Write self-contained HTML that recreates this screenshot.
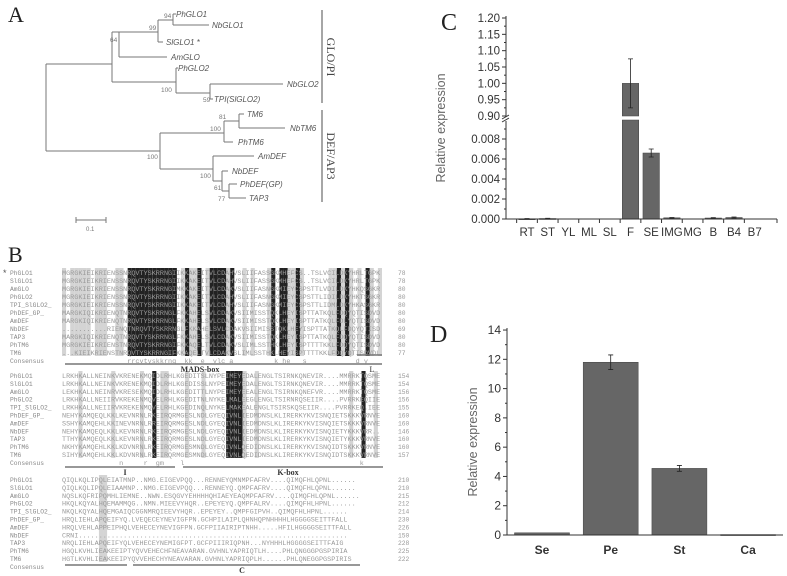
<!DOCTYPE html>
<html><head><meta charset="utf-8"><style>
html,body{margin:0;padding:0;background:#fff;}
svg{display:block;font-family:"Liberation Sans",sans-serif;}
.serif{font-family:"Liberation Serif",serif;}
.mono{font-family:"Liberation Mono",monospace;white-space:pre;}
</style></head><body>
<svg id="fig" width="787" height="576" viewBox="0 0 787 576" xmlns="http://www.w3.org/2000/svg">
<g id="panelA" stroke="#777" stroke-width="1" fill="none">
<text x="8" y="22" class="serif" font-size="22" fill="#222" stroke="none">A</text>
<path d="M46,64V151 M46,64H112 M112,32V82 M112,32H119 M119,32V57 M119,57H167 M119,32H158 M158,20V42 M158,42H163 M158,20H173 M173,14V25 M173,14H176 M173,25H209 M112,82H176 M176,68V93 M176,68H178 M176,93H210 M210,84V99 M210,84H283 M210,99H213
M46,151H160 M160,133V169 M160,133H224 M224,121V142 M224,121H239 M239,114V128 M239,114H244 M239,128H285 M224,142H233 M160,169H213 M213,156V181 M213,156H254 M213,181H222 M222,171V191 M222,171H228 M222,191H229 M229,184V198 M229,184H237 M229,198H246"/>
<g stroke="none" fill="#555" font-size="8" font-style="italic">
<text x="176" y="17">PhGLO1</text><text x="212" y="28">NbGLO1</text><text x="166" y="45">SlGLO1 *</text><text x="171" y="60">AmGLO</text><text x="178" y="71">PhGLO2</text><text x="287" y="87">NbGLO2</text><text x="214" y="102">TPI(SlGLO2)</text>
<text x="247" y="117">TM6</text><text x="290" y="131">NbTM6</text><text x="238" y="145">PhTM6</text><text x="258" y="159">AmDEF</text><text x="232" y="174">NbDEF</text><text x="240" y="187">PhDEF(GP)</text><text x="249" y="201">TAP3</text>
</g>
<g stroke="none" fill="#777" font-size="6.5">
<text x="164" y="18">94</text><text x="149" y="30">99</text><text x="110" y="42">64</text><text x="161" y="92">100</text><text x="203" y="102">59</text><text x="219" y="119">81</text><text x="210" y="131">100</text><text x="147" y="159">100</text><text x="200" y="178">100</text><text x="214" y="190">61</text><text x="218" y="201">77</text>
</g>
<path d="M322,10V103 M322,110V202" stroke="#888" stroke-width="1.5"/>
<text transform="translate(327,57) rotate(90)" text-anchor="middle" class="serif" font-size="12" fill="#444" stroke="none">GLO/PI</text>
<text transform="translate(327,156) rotate(90)" text-anchor="middle" class="serif" font-size="12" fill="#444" stroke="none">DEF/AP3</text>
<path d="M76,220H106 M76,217V223 M106,217V223"/>
<text x="86" y="231" font-size="6" fill="#777" stroke="none">0.1</text>
</g>

<g id="panelB">
<text x="8" y="262" class="serif" font-size="22" fill="#222">B</text>
<text x="3" y="276" font-size="9" fill="#555">*</text>
</g>

<g id="panelC"></g>
<g id="panelD"></g>
</svg>
<script>
const NS="http://www.w3.org/2000/svg";
function mk(parent,tag,attrs,text){const e=document.createElementNS(NS,tag);for(const k in attrs)e.setAttribute(k,attrs[k]);if(text!==undefined)e.textContent=text;parent.appendChild(e);return e;}

// ---------- Panel B alignment ----------
const seqNames=["PhGLO1","SlGLO1","AmGLO","PhGLO2","TPI_SlGLO2_","PhDEF_GP_","AmDEF","NbDEF","TAP3","PhTM6","TM6","Consensus"];
const blockEnds=[[78,78,80,80,80,80,80,69,80,80,77,""],[154,154,156,156,155,160,160,146,160,160,157,""],[210,210,215,212,214,230,226,150,228,225,222,""]];
const blockSeqs=[
["MGRGKIEIKRIENSSNRQVTYSKRRNGIIKKAKEITVLCDAHVSLIIFASSGKMHEFCS..TSLVCILDKYHRLTGPKLW","MGRGKIEIKRIENSSNRQVTYSKRRNGIIKKAKEITVLCDAHVSLIIFASSGKMHEFCS..TSLVCILDKYHRLTGPKLW","MGRGKIEIKRIENSSNRQVTYSKRRNGIMKKAKEITVLCDAKVSLIIFASNGKMIEYCSPSTTLVDILDKYHKQSGKRLW","MGRGKIEIKRIENSSNRQVTYSKRRNGIIKKAKEITVLCDAHVSLIIFASNGKMIEYCSPSTTLIDILDKYHKTSGKRLW","MGRGKIEIKRIENSSNRQVTYSKRRNGIIKKAKEITVLCDAHVSLIIFASNGKMIEYCSPSTTLIDMLDKYHKASGKRLW","MARGKIQIKRIENQTNRQVTYSKRRNGLFKKAHELSVLCDAKVSIIMISSTQKLHEYISPTTATKQLFDQYQTISDVDVW","MARGKIQIKRIENQTNRQVTYSKRRNGLFKKAHELSVLCDAKVSIIMISSTQKLHEYISPTTATKQLFDLYQTISDVDVW","...........RIENQTNRQVTYSKRRNGLFKKAHELSVLCDAKVSIIMISSTQKLHEYISPTTATKQLFDQYQTISDVDVW","MARGKIQIKRIENQTNRQVTYSKRRNGLFKKAHELSVLCDAKVSIIMISSTQKLHEYISPTTATKQLFDQYQTISDVDVW","MGRGKIEIKRIENSTNRQVTYSKRRNGIFKKAQELTVLCDAKVSLIMLSSTHKLHEYISPTTTTKKLFDQYQTISDVDVW","...KIEIKRIENSTNRQVTYSKRRNGIFKKAQELTVLCDAKVSLIMLSSTHKLHEYISPTTTTKKLFDQYQTISDVDLW","                rrcvtyskkrng  kk  e  vlc a          k he   s            d y    g"],
["LRKHKALLNEINKVKRENEKMQIDLRHLKGEDITSLNYPEIMEYEDALENGLTSIRNKQNEVIR....MMRRKTQSMEEE","LRKHKALLNEINKVKRENEKMQIDLRHLKGEDISSLNYPEIMEYEDALENGLTSIRNKQNEVIR....MMRRKTQSMEEE","LEKHKALLNEINRVKRESEKMQIDLRHLKGEDITTLNYPEIMEYEEALENGLTSIRNKQNEFVR....MMRRKTQSMEEE","LRKHKALLNEIIRVKREKENMQVELRHLKGEDITNLNYKELMALEEGLENGLTSIRNRQSEIIR....PVRRKEQIIEEE","LRKHKALLNEIIRVKREKENMQVELRHLKGEDINQLNYKELMAKEALENGLTSIRSKQSEIIR....PVRRKEQ.IEEE","NEHYKAMQEQLKKLKEVNRNLRKEIRQRMGESLNDLGYEQIVNLIEDMDNSLKLIRERKYKVISNQIETSKKKVRNVEEI","SSHYKAMQEHLKKINEVNRNLRREIRQRMGESLNDLGYEQIVNLIEDMDNSLKLIRERKYKVISNQIETSKKKVRNVEEI","NEHYKAMQEQLKKLKEVNRNLRKEIRQRMGESLNDLGYEQIVNLIEDMDNSLKLIRERKYKVISNQIETYKKKVRR...PQ","TTHYKAMQEQLKKLKEVNRNLRKEIRQRMGESLNDLGYEQIVNLIEDMDNSLKLIRERKYKVISNQIETYKKKVRNVEEI","NKHYKAMQEHLKKLKDVNRNLRKEIRQRMGESMNDLGYEQIVNLQEDIDNSLKLIRERKYKVISNQIDTSKKKVRNVEEI","SIHYKAMQEHLKKLKDVNRNLRKEIRQRMGESMNDLGYEQIVNLQEDIDNSLKLIRERKYKVISNQIDTSKKKVRNVEEI","              n     r  gm    l                                           k"],
["QIQLKQLIPQLEIATMNP..NMG.EIGEVPQQ...RENNEYQMNMPFAFRV....QIMQFHLQPNL......","QIQLKQLIPQLEIAAMNP..NMG.EIGEVPQQ...RENNEYQ.QMPFAFRV....QIMQFHLQPNL......","NQSLKQFRIPQMHLIEMNE..NWN.ESQGVYEHHHHQHIAEYEAQMPFAFRV....QIMQFHLQPNL......","HKQLKQYALHQEMAMMQG..NMN.MIEEVYHQR..EPEYEYQ.QMPFALRV....QIMQFHLHPNL......","NKQLKQYALHQEMGAIQCGGNMRQIEEVYHQR..EPEYEY..QMPFGIPVH..QIMQFHLHPNL......","HRQLIEHLAPQEIFYQ.LVEQECEYNEVIGFPN.GCHPILAIPLQHNHQPNHHHHLHGGGGSEITTFALL","HRQLVEHLAPPEIPHQLVEHECEYNEVIGFPN.GCFPIIAIRIPTNHH.....HFILHGGGGSEITTFALL","CRNI..................................................................","NRQLIEHLAPQEIFYQLVEHECEYNEMIGFPT.GCFPIIIRIQPNH...NYHHHLHGGGGSEITTFAIG","HGQLKVHLIEAKEEIPTYQVVEHECHFNEAVARAN.GVHNLYAPRIQTLH....PHLQNGGGPGSPIRIA","HGTLKVHLIEAKEEIPYQVVEHECHYNEAVARAN.GVHNLYAPRIQPLH......PHLQNEGGPGSPIRIS",""]
];
const blackCols=[[16,17,18,19,20,21,22,23,24,25,26,27,30,33,36,37,38,39,41,51,53,54,57,67,69,74],[22,40,41,42,43,73],[]];
const grayCols=[[0,2,3,4,5,6,8,9,10,13,14,29,31,32,35,40,44,46,50,55,56,58,65,66,68,70,72,75,77],[4,12,19,24,25,30,34,44,47,70,76],[9,10]];
const blockTop=[273,376,480];
const blockStep=[8,7.9,7.9];
const seqX=62, seqW=320, nCols=78;
const gB=document.getElementById('panelB');
for(let b=0;b<3;b++){
  const colW=seqW/nCols;
  const top=blockTop[b]-5, h=blockStep[b]*11;
  grayCols[b].forEach(c=>{mk(gB,'rect',{x:seqX+c*colW,y:top,width:colW,height:h,fill:'#d4d4d4'});});
  blackCols[b].forEach(c=>{mk(gB,'rect',{x:seqX+c*colW,y:top,width:colW,height:h,fill:'#222'});});
  for(let i=0;i<seqNames.length;i++){
    const y=blockTop[b]+i*blockStep[b]+2;
    const n=mk(gB,'text',{x:10,y:y,'font-size':6.3,fill:'#888','class':'mono'},seqNames[i]);
    
    
    const s=blockSeqs[b][i];
    if(s.length){
      mk(gB,'text',{x:seqX,y:y,'font-size':6.8,fill:'#9a9a9a','class':'mono'},s.slice(0,nCols));
    }
    if(blockEnds[b][i]!==""){mk(gB,'text',{x:398,y:y,'font-size':6.3,fill:'#999','class':'mono'},String(blockEnds[b][i]));}
  }
}
mk(gB,'path',{d:'M65,364H382 M357,355H382 M65,467H175 M183,467H383 M65,565H127 M133,565H360',stroke:'#777','stroke-width':1.5,fill:'none'});
mk(gB,'text',{x:200,y:372,'font-size':8,'class':'serif',fill:'#333','font-weight':'bold','text-anchor':'middle'},'MADS-box');
mk(gB,'text',{x:372,y:372,'font-size':8,'class':'serif',fill:'#333','text-anchor':'middle'},'L');
mk(gB,'text',{x:125,y:475,'font-size':8,'class':'serif',fill:'#333','font-weight':'bold','text-anchor':'middle'},'I');
mk(gB,'text',{x:288,y:475,'font-size':8,'class':'serif',fill:'#333','font-weight':'bold','text-anchor':'middle'},'K-box');
mk(gB,'text',{x:242,y:573,'font-size':8,'class':'serif',fill:'#333','font-weight':'bold','text-anchor':'middle'},'C');

// ---------- Panel C ----------
const catsC=["RT","ST","YL","ML","SL","F","SE","IMG","MG","B","B4","B7"];
const valsC=[0.00003,0.00005,0,0,0,1.0,0.0066,0.00012,0,0.0001,0.00015,0];
const errC=[0.00002,0.00002,0,0,0,0.075,0.0004,0.00003,0,0.00003,0.00005,0];
const ticksCLow=[0,0.002,0.004,0.006,0.008];
const ticksCHigh=[0.90,0.95,1.00,1.05,1.10,1.15,1.20];
const gC=document.getElementById('panelC');
const cAx=506, cX0=527, cStep=20.7, cBarW=16.5;
const yLow=v=>219-v*10000;
const yHigh=v=>18+(1.2-v)*326.7;
const xC=i=>cX0+i*cStep;
const yC=v=>v<=0.0098?yLow(v):yHigh(Math.max(v,0.9));
mk(gC,'text',{x:441,y:30,'class':'serif','font-size':24,fill:'#222'},'C');
catsC.forEach((c,i)=>{
  const v=valsC[i]; if(v<=0) return;
  const x=xC(i)-cBarW/2;
  if(v>0.0098){
    const b1=mk(gC,'rect',{x:x,y:yHigh(v),width:cBarW,height:yHigh(0.9)-yHigh(v),fill:'#666',stroke:'#444','stroke-width':0.5});
    
    
    const b2=mk(gC,'rect',{x:x,y:120,width:cBarW,height:219-120,fill:'#666',stroke:'#444','stroke-width':0.5});
    
    
  } else {
    const b=mk(gC,'rect',{x:x,y:yLow(v),width:cBarW,height:Math.max(219-yLow(v),1),fill:'#666',stroke:'#444','stroke-width':0.5});
    
    
  }
  const e=errC[i]; if(e>0){
    const y1=yC(v+e), y2=yC(v-e), xc=xC(i);
    const eb=mk(gC,'path',{d:`M${xc},${y1}V${y2} M${xc-2.5},${y1}H${xc+2.5} M${xc-2.5},${y2}H${xc+2.5}`,stroke:'#222','stroke-width':0.8,fill:'none'});
    
    
  }
});
mk(gC,'path',{d:`M${cAx},16V116 M${cAx},121V219 M${cAx},219H777`,stroke:'#333','stroke-width':1,fill:'none'});
mk(gC,'path',{d:`M${cAx-4},119L${cAx+3},115 M${cAx-4},122L${cAx+3},118`,stroke:'#333','stroke-width':1,fill:'none'});
ticksCHigh.forEach(t=>{const y=yHigh(t);mk(gC,'path',{d:`M${cAx-4},${y}H${cAx}`,stroke:'#333'});
  const m=yHigh(t+0.025); if(t<1.2) mk(gC,'path',{d:`M${cAx-2},${m}H${cAx}`,stroke:'#333'});
  mk(gC,'text',{x:cAx-6,y:y+4,'font-size':11.5,fill:'#333','text-anchor':'end'},t.toFixed(2));});
ticksCLow.forEach(t=>{const y=yLow(t);mk(gC,'path',{d:`M${cAx-4},${y}H${cAx}`,stroke:'#333'});
  mk(gC,'path',{d:`M${cAx-2},${yLow(t+0.001)}H${cAx}`,stroke:'#333'});
  mk(gC,'text',{x:cAx-6,y:y+4,'font-size':11.5,fill:'#333','text-anchor':'end'},t.toFixed(3));});
catsC.forEach((c,i)=>{const x=xC(i);mk(gC,'path',{d:`M${x-cStep/2},219V223`,stroke:'#333'});
  const t=mk(gC,'text',{x:x,y:236,'font-size':11.5,fill:'#333','text-anchor':'middle'},c);
  
  });
mk(gC,'path',{d:`M777,219V223`,stroke:'#333'});
mk(gC,'text',{transform:'translate(445,128) rotate(-90)','font-size':12.5,fill:'#666','text-anchor':'middle'},'Relative expression');

// ---------- Panel D ----------
const catsD=["Se","Pe","St","Ca"];
const valsD=[0.15,11.8,4.55,0.03];
const errD=[0.03,0.5,0.2,0.02];
const ticksD=[0,2,4,6,8,10,12,14];
const gD=document.getElementById('panelD');
const dAx=507, dY0=535, dPx=14.64, dX0=542, dStep=68.7, dBarW=55;
const yD=v=>dY0-v*dPx, xD=i=>dX0+i*dStep;
mk(gD,'text',{x:430,y:342,'class':'serif','font-size':24,fill:'#222'},'D');
catsD.forEach((c,i)=>{
  const v=valsD[i];
  const b=mk(gD,'rect',{x:xD(i)-dBarW/2,y:yD(v),width:dBarW,height:Math.max(dY0-yD(v),1),fill:'#666',stroke:'#444','stroke-width':0.5});
  
  
  const e=errD[i]; if(e>0.05){const x=xD(i),y1=yD(v+e),y2=yD(v-e);
    const eb=mk(gD,'path',{d:`M${x},${y1}V${y2} M${x-2.5},${y1}H${x+2.5} M${x-2.5},${y2}H${x+2.5}`,stroke:'#222','stroke-width':0.8,fill:'none'});
    
    }
  const t=mk(gD,'text',{x:xD(i),y:dY0+19,'font-size':12,fill:'#333','text-anchor':'middle','font-weight':'bold'},c);
  
  
});
mk(gD,'path',{d:`M${dAx},328V${dY0}H783`,stroke:'#333','stroke-width':1,fill:'none'});
ticksD.forEach(t=>{const y=yD(t);mk(gD,'path',{d:`M${dAx-4},${y}H${dAx}`,stroke:'#333'});
  if(t<14) mk(gD,'path',{d:`M${dAx-2},${yD(t+1)}H${dAx}`,stroke:'#333'});
  mk(gD,'text',{x:dAx-6,y:y+4,'font-size':12,fill:'#333','text-anchor':'end'},String(t));});
mk(gD,'text',{transform:'translate(477,442) rotate(-90)','font-size':12.5,fill:'#666','text-anchor':'middle'},'Relative expression');
</script>
</body></html>
